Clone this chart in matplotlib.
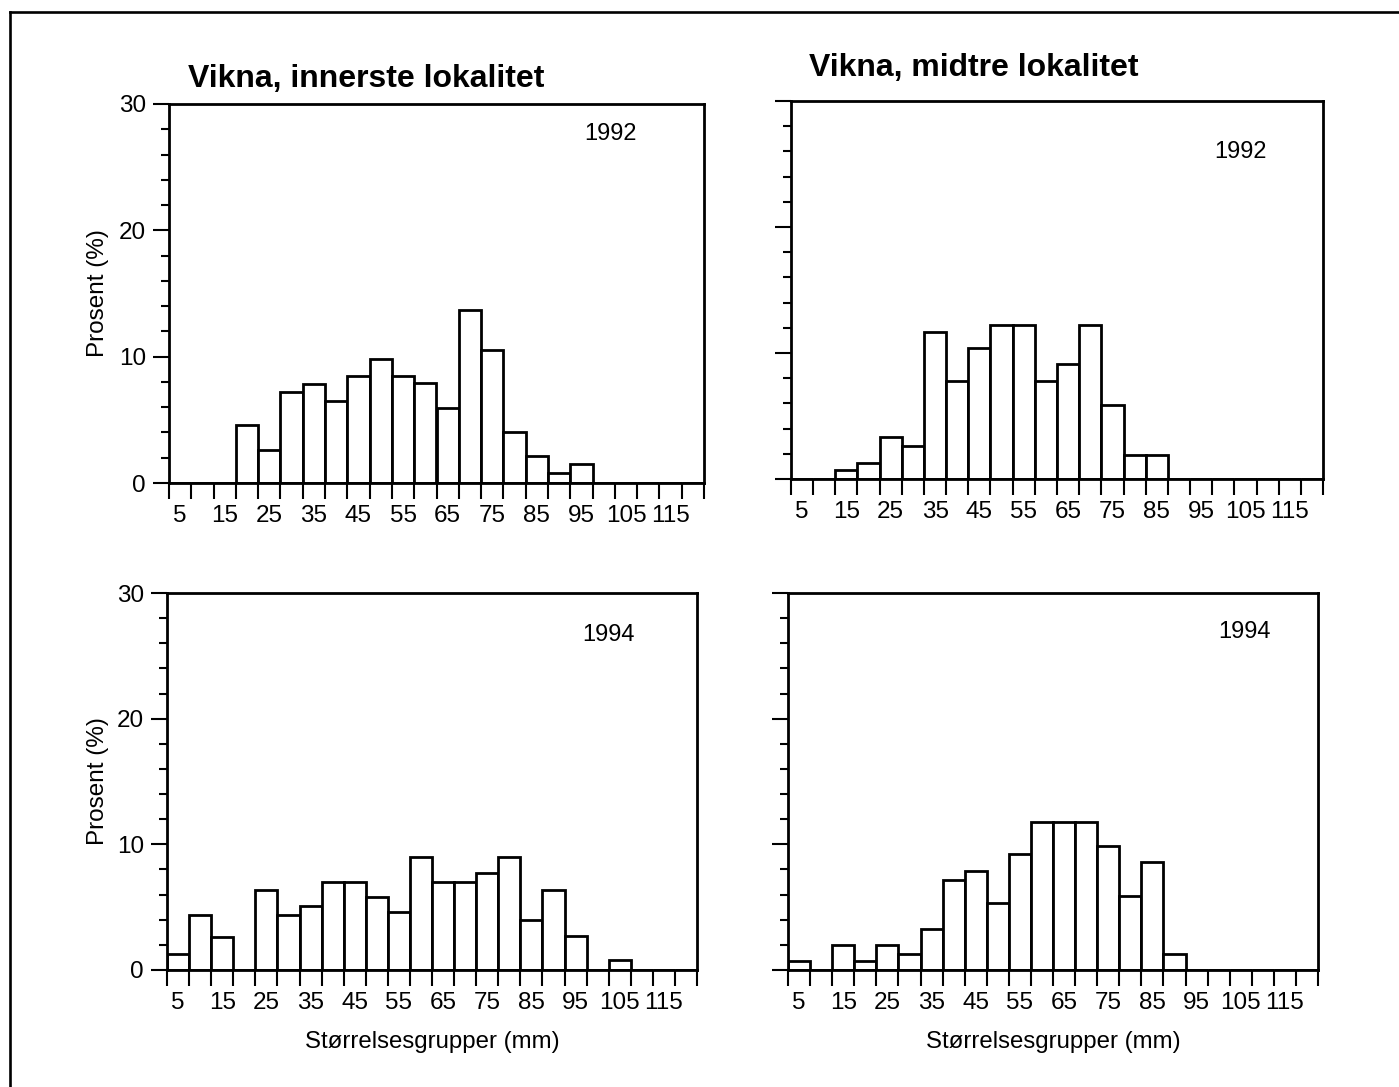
import matplotlib
matplotlib.use("Agg")
import matplotlib.pyplot as plt
from matplotlib.lines import Line2D
import numpy as np

plt.rcParams['font.family'] = ['Liberation Sans', 'DejaVu Sans']

# Size groups (mm), one bar per 5 mm group
size_groups = [5, 10, 15, 20, 25, 30, 35, 40, 45, 50, 55, 60,
               65, 70, 75, 80, 85, 90, 95, 100, 105, 110, 115, 120]
tick_labels = ["5", "15", "25", "35", "45", "55", "65", "75", "85", "95", "105", "115"]
label_positions = [5, 15, 25, 35, 45, 55, 65, 75, 85, 95, 105, 115]

# Percent of individuals per size group
innerste_1992 = [0, 0, 0, 4.6, 2.6, 7.2, 7.8, 6.5, 8.5, 9.8, 8.5, 7.9,
                 5.9, 13.7, 10.5, 4.0, 2.1, 0.8, 1.5, 0, 0, 0, 0, 0]
midtre_1992 = [0, 0, 0.7, 1.3, 3.3, 2.6, 11.7, 7.8, 10.4, 12.2, 12.2, 7.8,
               9.1, 12.2, 5.9, 1.9, 1.9, 0, 0, 0, 0, 0, 0, 0]
innerste_1994 = [1.3, 4.4, 2.6, 0, 6.4, 4.4, 5.1, 7.0, 7.0, 5.8, 4.6, 9.0,
                 7.0, 7.0, 7.7, 9.0, 4.0, 6.4, 2.7, 0, 0.8, 0, 0, 0]
midtre_1994 = [0.7, 0, 2.0, 0.7, 2.0, 1.3, 3.3, 7.2, 7.9, 5.3, 9.2, 11.8,
               11.8, 11.8, 9.9, 5.9, 8.6, 1.3, 0, 0, 0, 0, 0, 0]

titles = ["Vikna, innerste lokalitet", "Vikna, midtre lokalitet"]
years = ["1992", "1994"]
ylabel = "Prosent (%)"
xlabel = "Størrelsesgrupper (mm)"

W, H = 1399, 1087
fig = plt.figure(figsize=(W / 100, H / 100), dpi=100)


def px_axes(left, right, top, bottom):
    return fig.add_axes([left / W, 1 - bottom / H, (right - left) / W, (bottom - top) / H])


panels = [
    (px_axes(169, 704, 104, 483), innerste_1992, (610, 134), True),
    (px_axes(791, 1323, 101, 479), midtre_1992, (1240, 152), False),
    (px_axes(167, 697, 593, 970), innerste_1994, (609, 635), True),
    (px_axes(788, 1318, 593, 970), midtre_1994, (1245, 632), False),
]

edges = [s - 2.5 for s in size_groups] + [size_groups[-1] + 2.5]

for i, (ax, values, ypos, show_y) in enumerate(panels):
    ax.bar(size_groups, values, width=5, color="white", edgecolor="black",
           linewidth=2.0, zorder=2)
    ax.set_xlim(2.5, 122.5)
    ax.set_ylim(0, 30)
    for sp in ax.spines.values():
        sp.set_linewidth(2.0)
        sp.set_zorder(3)
    ax.set_xticks(edges)
    ax.set_xticklabels([])
    ax.set_xticks(label_positions, minor=True)
    ax.set_xticklabels(tick_labels, minor=True)
    ax.tick_params(axis="x", which="major", direction="out", length=11.5, width=1.5)
    ax.tick_params(axis="x", which="minor", length=0, pad=16, labelsize=17.5)
    ax.set_yticks([0, 10, 20, 30])
    ax.set_yticks(np.arange(0, 31, 2), minor=True)
    ax.tick_params(axis="y", which="major", direction="out", length=11.5, width=1.5,
                   pad=5, labelsize=17.5)
    ax.tick_params(axis="y", which="minor", direction="out", length=5.5, width=1.5)
    if not show_y:
        ax.set_yticklabels([])
    fig.text(ypos[0] / W, 1 - ypos[1] / H, years[i // 2], ha="center", va="center",
             fontsize=17)
    if show_y:
        fig.text(98 / W, 1 - ((104 + 483) / 2 if i == 0 else (593 + 970) / 2) / H, ylabel,
                 rotation=90, ha="center", va="center", fontsize=17.5)
    if i >= 2:
        pos = ax.get_position()
        fig.text((pos.x0 + pos.x1) / 2, 1 - 1042 / H, xlabel, ha="center", va="center",
                 fontsize=17.3)

fig.text(188 / W, 1 - 87 / H, titles[0], ha="left", va="baseline",
         fontsize=23, fontweight="bold")
fig.text(809 / W, 1 - 76 / H, titles[1], ha="left", va="baseline",
         fontsize=23, fontweight="bold")

# Outer frame along the top and left edges
fig.add_artist(Line2D([10 / W, 10 / W], [0, 1 - 12 / H], transform=fig.transFigure,
                      color="black", linewidth=1.9))
fig.add_artist(Line2D([10 / W, 1], [1 - 12 / H, 1 - 12 / H], transform=fig.transFigure,
                      color="black", linewidth=1.9))

fig.savefig("out.png", dpi=100, facecolor="white")
